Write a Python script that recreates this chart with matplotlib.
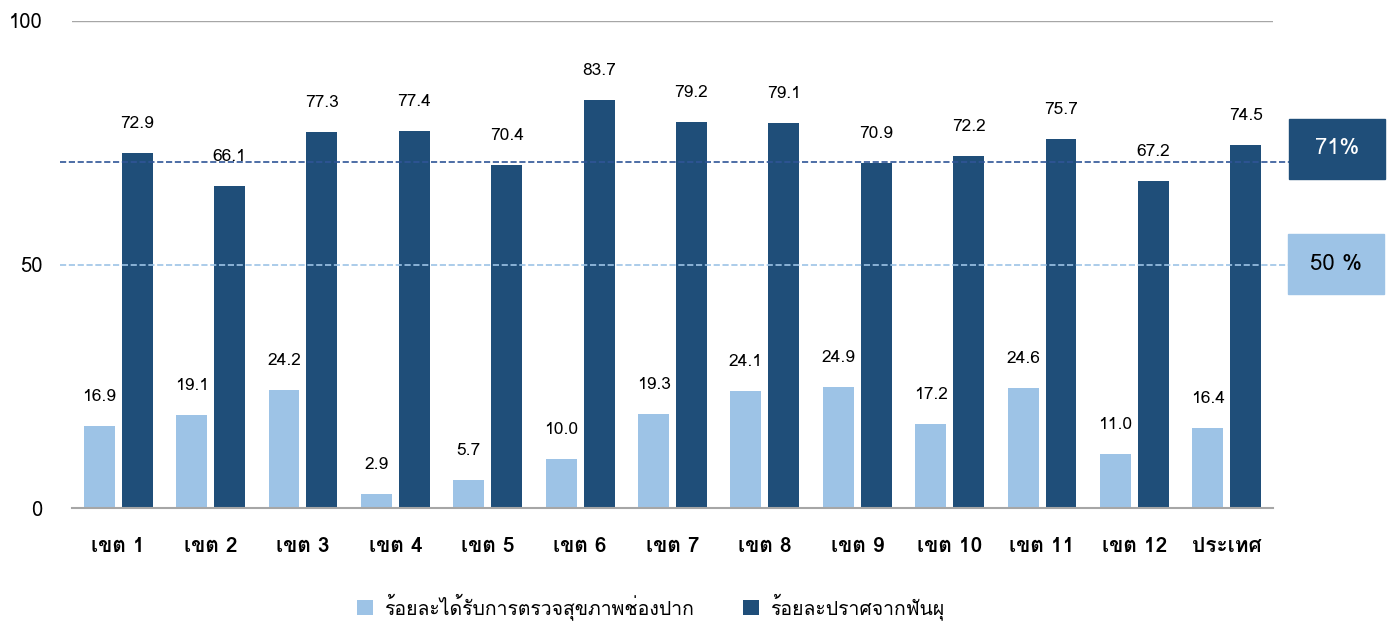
import matplotlib
matplotlib.use('Agg')
import matplotlib.pyplot as plt

cats = ['เขต 1', 'เขต 2', 'เขต 3', 'เขต 4', 'เขต 5', 'เขต 6', 'เขต 7',
        'เขต 8', 'เขต 9', 'เขต 10', 'เขต 11', 'เขต 12', 'ประเทศ']
checked = [16.9, 19.1, 24.2, 2.9, 5.7, 10.0, 19.3, 24.1, 24.9, 17.2, 24.6, 11.0, 16.4]
caries_free = [72.9, 66.1, 77.3, 77.4, 70.4, 83.7, 79.2, 79.1, 70.9, 72.2, 75.7, 67.2, 74.5]
series_names = ['ร้อยละได้รับการตรวจสุขภาพช่องปาก', 'ร้อยละปราศจากฟันผุ']
targets = [71, 50]
target_labels = ['71%', '50 %']

light = '#9dc3e6'
dark = '#1f4e79'

# Loma has the thai glyphs
plt.rcParams['font.family'] = ['Loma', 'DejaVu Sans']

fig = plt.figure(figsize=(13.93, 6.28), dpi=100)
ax = fig.add_axes([72/1393, 1-508/628, 1201/1393, 487/628])

x = list(range(len(cats)))
w = 0.335
off = 0.205
ax.bar([i - off for i in x], checked, w, color=light, label=series_names[0])
ax.bar([i + off for i in x], caries_free, w, color=dark, label=series_names[1])

for i in x:
    ax.text(i - off, checked[i] + 4.3, f'{checked[i]:.1f}', ha='center', va='bottom', fontsize=12.5)
    ax.text(i + off, caries_free[i] + 4.3, f'{caries_free[i]:.1f}', ha='center', va='bottom', fontsize=12.5)

ax.set_xlim(-0.5, len(cats) - 0.5)
ax.set_ylim(0, 100)
ax.set_yticks([0, 50, 100])
ax.set_xticks(x)
ax.set_xticklabels(cats, fontsize=15, fontweight='bold')
ax.tick_params(axis='y', length=0, labelsize=14.5, pad=21)
ax.tick_params(axis='x', length=0, pad=21)
for s in ['top', 'right', 'left']:
    ax.spines[s].set_visible(False)
ax.spines['bottom'].set_color('#a6a6a6')
ax.spines['bottom'].set_linewidth(1.5)
ax.axhline(100, color='#a6a6a6', lw=1)

# target lines + label boxes on the right
xs = [-0.5 - 12/92.4, len(cats) - 0.5 + 17/92.4]
ax.plot(xs, [targets[0]] * 2, ls='--', color='#2f5597', lw=1.2, clip_on=False)
ax.plot(xs, [targets[1]] * 2, ls='--', color=light, lw=1.2, clip_on=False)
fig.patches.append(plt.Rectangle((1289/1393, 1-179/628), 96/1393, 60/628, transform=fig.transFigure,
                                 color=dark, zorder=1))
fig.patches.append(plt.Rectangle((1288/1393, 1-294/628), 96/1393, 60/628, transform=fig.transFigure,
                                 color=light, zorder=1))
fig.text(1337/1393, 1-149/628, target_labels[0], ha='center', va='center', fontsize=16, color='white')
fig.text(1336/1393, 1-264/628, target_labels[1], ha='center', va='center', fontsize=16, color='black')

fig.legend(loc='lower center', bbox_to_anchor=(0.467, -0.015), ncol=2, frameon=False, fontsize=14,
           handlelength=0.85, handleheight=0.85, handletextpad=0.55, columnspacing=2.5)

fig.savefig('out.png', dpi=100)
